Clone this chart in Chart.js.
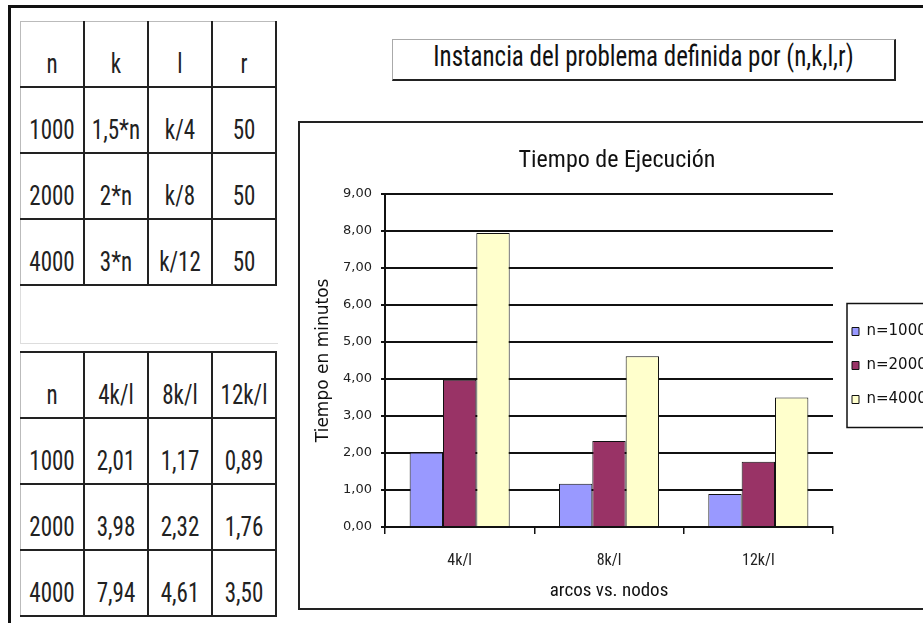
<!DOCTYPE html>
<html>
<head>
<meta charset="utf-8">
<script src="https://cdn.jsdelivr.net/npm/chart.js@4.4.1/dist/chart.umd.min.js"></script>
<style>
  body { margin: 0; width: 923px; height: 623px; overflow: hidden; background: #fff; position: relative; }
  .narrow { font-family: "Roboto Condensed", "Liberation Sans Narrow", sans-serif; font-stretch: condensed; }
  .tall { display: inline-block; transform: scaleY(1.18); transform-origin: 50% 100%; }
  #frame { position: absolute; left: 8px; top: 5px; width: 1000px; height: 700px;
           border-left: 3px solid #111; border-top: 3px solid #111; }
  table.grid { position: absolute; left: 20px; border-collapse: collapse; color: #222; font-size: 23px; }
  table.grid td { border: 2px solid #222; text-align: center; vertical-align: bottom;
                  padding: 0 0 8px 0; width: 62px; height: 56px; line-height: 1; }
  table.grid td:first-child { border-left: 1px solid #bbb; }
  #t1 { top: 21px; }
  #t1 tr:first-child td { border-top: 1px solid #bbb; }
  #t2 { top: 351px; }
  #gap { position: absolute; left: 20px; top: 286px; width: 257px; height: 57px;
         border-left: 1px solid #ddd; border-bottom: 1px solid #ddd; }
  #head { position: absolute; left: 392px; top: 39px; width: 501px; height: 39px;
          border-left: 1px solid #aaa; border-top: 1px solid #aaa;
          border-right: 2px solid #222; border-bottom: 2px solid #222;
          font-size: 25px; color: #111; text-align: center; line-height: 40px; }
  #chartBox { position: absolute; left: 298px; top: 121px; width: 700px; height: 485px; border: 2px solid #222; }
  #chart { position: absolute; left: 300px; top: 123px; }
</style>
</head>
<body>
<div id="frame"></div>
<table id="t1" class="grid narrow"></table>
<div id="gap"></div>
<table id="t2" class="grid narrow"></table>
<div id="head" class="narrow"><span class="tall">Instancia del problema definida por (n,k,l,r)</span></div>
<div id="chartBox"></div>
<canvas id="chart" width="623" height="485"></canvas>
<script>
// instance parameters (first table)
const paramHeader = ['n', 'k', 'l', 'r'];
const paramN = ['1000', '2000', '4000'];
const paramK = ['1,5*n', '2*n', '3*n'];
const paramL = ['k/4', 'k/8', 'k/12'];
const paramR = ['50', '50', '50'];

// execution times (second table + chart)
const categories = ['4k/l', '8k/l', '12k/l'];
const seriesNames = ['n=1000', 'n=2000', 'n=4000'];
const n1000 = [2.01, 1.17, 0.89];
const n2000 = [3.98, 2.32, 1.76];
const n4000 = [7.94, 4.61, 3.50];
const yTicksMax = 9;

const colors = ['#9999FF', '#993366', '#FFFFCC'];
const NARROW = '"Roboto Condensed", sans-serif';
const WIDE = '"DejaVu Sans", sans-serif';

function comma(v) {
    return v.toFixed(2).replace('.', ',');
}

function fillTable(table, rows) {
    rows.forEach(row => {
        const tr = document.createElement('tr');
        row.forEach(cell => {
            const td = document.createElement('td');
            const span = document.createElement('span');
            span.className = 'tall';
            span.textContent = cell;
            td.appendChild(span);
            tr.appendChild(td);
        });
        table.appendChild(tr);
    });
}

fillTable(document.getElementById('t1'), [paramHeader].concat(
    paramN.map((n, i) => [n, paramK[i], paramL[i], paramR[i]])
));

const series = [n1000, n2000, n4000];
fillTable(document.getElementById('t2'), [['n'].concat(categories)].concat(
    paramN.map((n, i) => [n].concat(series[i].map(comma)))
));

// border round the legend, like the excel one
const legendBox = {
    id: 'legendBox',
    afterDraw(chart) {
        const lg = chart.legend;
        const ctx = chart.ctx;
        const mid = (lg.top + lg.bottom) / 2;
        ctx.save();
        ctx.strokeStyle = '#111';
        ctx.lineWidth = 1.5;
        ctx.strokeRect(lg.left + 14, mid - 62, 140, 124);
        ctx.restore();
    }
};

new Chart(document.getElementById('chart'), {
    type: 'bar',
    data: {
        labels: categories,
        datasets: series.map((data, i) => ({
            label: seriesNames[i],
            data: data,
            backgroundColor: colors[i],
            borderColor: '#111',
            borderWidth: 1,
            categoryPercentage: 0.67,
            barPercentage: 1
        }))
    },
    options: {
        responsive: false,
        animation: false,
        layout: { padding: { left: 11, right: 0, top: 0, bottom: 0 } },
        plugins: {
            title: {
                display: true,
                text: 'Tiempo de Ejecución',
                color: '#111',
                font: { family: NARROW, size: 24, weight: 'normal' },
                padding: { top: 24, bottom: 18 }
            },
            legend: {
                position: 'right',
                maxWidth: 90,
                labels: {
                    color: '#111',
                    font: { family: WIDE, size: 15 },
                    boxWidth: 7,
                    boxHeight: 8,
                    padding: 19
                }
            },
            tooltip: { enabled: false }
        },
        scales: {
            x: {
                grid: { drawOnChartArea: false, tickLength: 7, color: '#111', lineWidth: 1.5 },
                border: { color: '#111', width: 2 },
                ticks: { color: '#222', font: { family: NARROW, size: 16 }, padding: 17 },
                title: {
                    display: true,
                    text: 'arcos vs. nodos',
                    color: '#111',
                    font: { family: NARROW, size: 19 },
                    padding: { top: 0, bottom: 5 }
                },
                afterFit(scale) { scale.height = 81; }
            },
            y: {
                min: 0,
                max: yTicksMax,
                grid: { color: '#111', lineWidth: 2, tickLength: 4 },
                border: { color: '#111', width: 2 },
                ticks: {
                    stepSize: 1,
                    color: '#222',
                    padding: 9,
                    font: { family: WIDE, size: 13 },
                    callback: v => comma(v)
                },
                title: {
                    display: true,
                    text: 'Tiempo en minutos',
                    color: '#111',
                    font: { family: WIDE, size: 17 },
                    padding: { top: 2, bottom: 0 }
                },
                afterFit(scale) { scale.width = 74; }
            }
        }
    },
    plugins: [legendBox]
});
</script>
</body>
</html>
